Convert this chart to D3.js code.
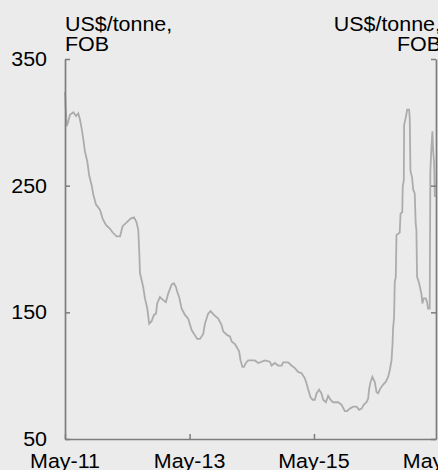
<!DOCTYPE html>
<html>
<head>
<meta charset="utf-8">
<script src="https://cdn.jsdelivr.net/npm/d3@7"></script>
<style>
  html, body { margin: 0; padding: 0; background: #ebebeb; }
  svg { display: block; }
  text { font-family: "Liberation Sans", Arial, sans-serif; fill: #000; }
</style>
</head>
<body>
<svg id="chart" width="438" height="470"></svg>
<script>
// ---- Data ----
const dates = [
  "2011-05-01","2011-05-04","2011-05-11","2011-05-19","2011-05-30","2011-06-19","2011-07-05","2011-07-18",
  "2011-07-28","2011-08-07","2011-08-16","2011-08-26","2011-09-09","2011-09-20","2011-10-05","2011-10-14",
  "2011-10-30","2011-11-22","2011-12-08","2011-12-27","2012-01-20","2012-02-05","2012-02-28","2012-03-19",
  "2012-04-03","2012-04-27","2012-05-20","2012-06-09","2012-06-24","2012-07-04","2012-07-10","2012-07-14",
  "2012-08-02","2012-08-12","2012-08-26","2012-09-06","2012-09-20","2012-10-04","2012-10-16","2012-10-23",
  "2012-11-08","2012-11-24","2012-12-13","2012-12-27","2013-01-16","2013-01-29","2013-02-10","2013-02-18",
  "2013-03-01","2013-03-15","2013-04-04","2013-04-23","2013-05-13","2013-06-01","2013-06-15","2013-07-01",
  "2013-07-20","2013-07-30","2013-08-18","2013-09-01","2013-09-21","2013-10-16","2013-11-05","2013-11-14",
  "2013-12-08","2013-12-24","2014-01-03","2014-01-22","2014-02-04","2014-02-16","2014-02-24","2014-03-07",
  "2014-03-16","2014-03-27","2014-04-10","2014-05-19","2014-06-08","2014-07-17","2014-08-15","2014-08-25",
  "2014-09-13","2014-10-03","2014-10-23","2014-11-01","2014-11-30","2014-12-20","2015-01-09","2015-01-28",
  "2015-02-17","2015-03-08","2015-03-18","2015-03-28","2015-04-11","2015-04-23","2015-05-06","2015-05-16",
  "2015-05-31","2015-06-14","2015-06-24","2015-07-10","2015-07-23","2015-08-06","2015-08-21","2015-09-20",
  "2015-10-10","2015-10-29","2015-11-11","2015-11-27","2015-12-17","2016-01-06","2016-01-21","2016-02-04",
  "2016-02-17","2016-03-04","2016-03-14","2016-03-19","2016-03-28","2016-04-08","2016-04-22","2016-05-02",
  "2016-05-11","2016-05-25","2016-06-10","2016-06-25","2016-07-09","2016-07-19","2016-07-29","2016-08-04",
  "2016-08-07","2016-08-13","2016-08-17","2016-08-23","2016-08-27","2016-09-06","2016-09-15","2016-09-20",
  "2016-09-30","2016-10-03","2016-10-09","2016-10-11","2016-10-21","2016-10-29","2016-11-09","2016-11-13",
  "2016-11-17","2016-11-27","2016-12-03","2016-12-12","2016-12-18","2016-12-22","2016-12-26","2017-01-07",
  "2017-01-15","2017-01-21","2017-01-26","2017-02-03","2017-02-15","2017-02-23","2017-02-28","2017-03-10",
  "2017-03-14","2017-03-20","2017-03-26","2017-03-30","2017-04-05","2017-04-09"
];
const prices = [
  324,315,297,300,306,308,305,307,
  302,295,287,277,269,258,250,243,
  235,231,224,219,216,213,210,210,
  218,221,224,225,221,215,197,181,
  170,161,153,141,143,148,149,157,
  162,160,158,165,172,173,170,166,
  162,153,148,145,136,132,129,129,
  133,141,149,151,148,145,140,135,
  132,131,127,125,122,119,112,107,
  107,110,112,112,110,112,111,108,
  110,108,108,110.5,110.5,108,106,103,
  102,98,94,89,83,81,81,86,
  89,86,81,79,84,81,79,79,
  77,72,72,74,75.5,75.5,73,74,
  77,79,82,89,95,99,95,87,
  86,90,93,95,99,104.5,112,125,
  137,146,174,178,211,212,213,228,
  229,250,254,298,304,310,310,303,
  262,256,247,244,220,215,178,173,
  168,164,157,161,161,158,153,153,
  262,280,293,278,268,241
];
const yTicks = [50, 150, 250, 350];
const xTickDates = ["2011-05-01", "2013-05-01", "2015-05-01", "2017-05-01"];
const xTickLabels = ["May-11", "May-13", "May-15", "May-17"];
const unitLines = ["US$/tonne,", "FOB"];
const startDate = "2011-05-01";
const endDate = "2017-04-16";

// ---- Layout ----
const parse = d3.timeParse("%Y-%m-%d");
const data = dates.map((d, i) => ({ date: parse(d), value: prices[i] }));

const svg = d3.select("#chart");
const M = { left: 65, right: 436, top: 59, bottom: 439 };
const axisColor = "#7d7d7d";
const fontSize = 19.5, stretch = 1.1;

const x = d3.scaleTime().domain([parse(startDate), parse(endDate)]).range([M.left, M.right]);
const y = d3.scaleLinear().domain([50, 350]).range([M.bottom, M.top]);

// Line
const line = d3.line().x(d => x(d.date)).y(d => y(d.value)).curve(d3.curveLinear);
svg.append("path")
  .datum(data)
  .attr("d", line)
  .attr("fill", "none")
  .attr("stroke", "#acacac")
  .attr("stroke-width", 1.8)
  .attr("stroke-linejoin", "miter");

// Axes
function styleAxis(g) {
  g.selectAll("path.domain").attr("stroke", axisColor).attr("stroke-width", 1.7);
  g.selectAll(".tick line").attr("stroke", axisColor).attr("stroke-width", 1.5);
  g.selectAll(".tick text").remove();
}

svg.append("g")
  .attr("transform", `translate(${M.left},0)`)
  .call(d3.axisLeft(y).tickValues(yTicks).tickSizeInner(-5).tickSizeOuter(0))
  .call(styleAxis);

svg.append("g")
  .attr("transform", `translate(${M.right},0)`)
  .call(d3.axisRight(y).tickValues(yTicks).tickSizeInner(-5).tickSizeOuter(0))
  .call(styleAxis);

svg.append("g")
  .attr("transform", `translate(0,${M.bottom})`)
  .call(d3.axisBottom(x).tickValues(xTickDates.map(parse)).tickSizeInner(-5).tickSizeOuter(0))
  .call(styleAxis);

// Text helper (slightly wide text as in the reference)
function label(px, py, txt, anchor) {
  svg.append("text")
    .attr("transform", `translate(${px},${py}) scale(${stretch},1)`)
    .attr("text-anchor", anchor)
    .attr("font-size", fontSize)
    .text(txt);
}

yTicks.forEach(v => label(47, y(v) + 7, String(v), "end"));
xTickDates.forEach((d, i) => label(x(parse(d)), 467.5, xTickLabels[i], "middle"));

label(M.left, 30.5, unitLines[0], "start");
label(M.left, 50.5, unitLines[1], "start");
label(441, 30.5, unitLines[0], "end");
label(441, 50.5, unitLines[1], "end");
</script>
</body>
</html>
